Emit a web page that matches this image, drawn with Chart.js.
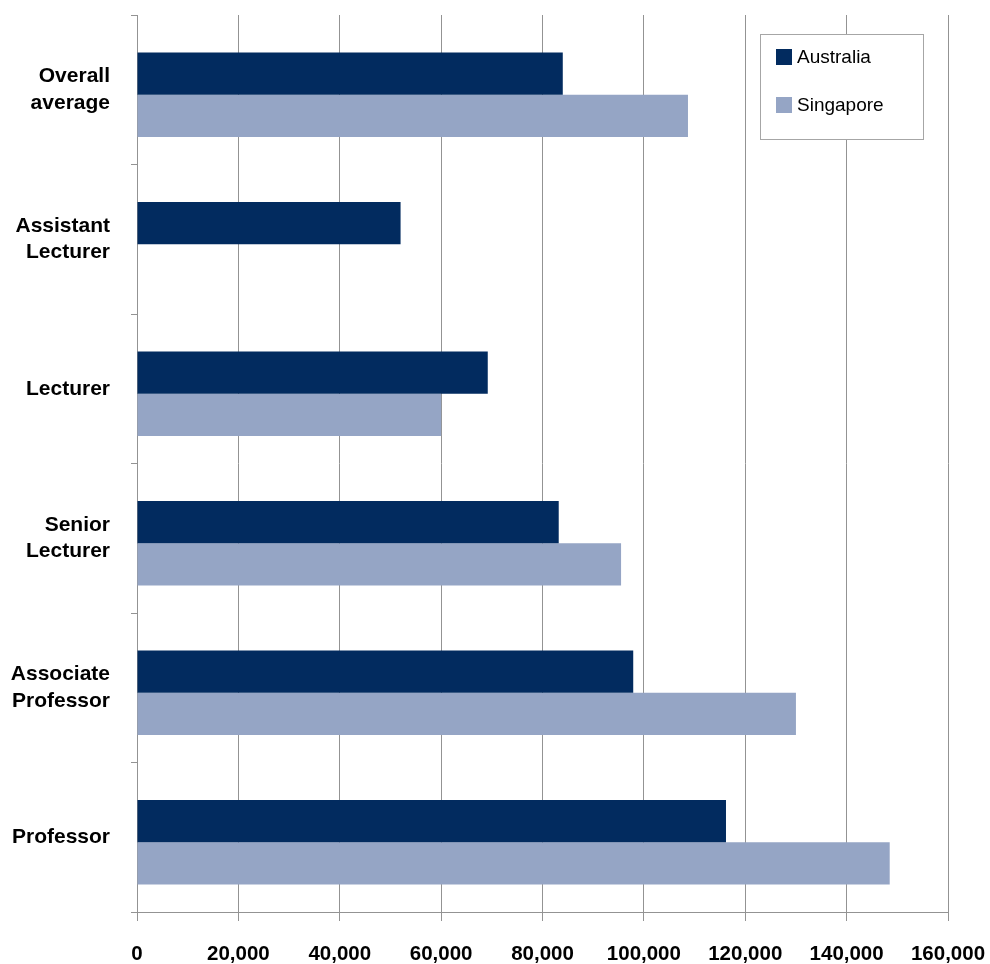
<!DOCTYPE html>
<html>
<head>
<meta charset="utf-8">
<script src="https://cdn.jsdelivr.net/npm/chart.js@4/dist/chart.umd.min.js"></script>
<style>
  html, body { margin: 0; padding: 0; background: #fff; }
  #salaryChart { display: block; }
</style>
</head>
<body>
<canvas id="salaryChart" width="990" height="964"></canvas>
<script>
const categories = [
    ['Overall', 'average'],
    ['Assistant', 'Lecturer'],
    'Lecturer',
    ['Senior', 'Lecturer'],
    ['Associate', 'Professor'],
    'Professor'
];
const australia = [84000, 52000, 69200, 83200, 97900, 116200];
const singapore = [108700, null, 60000, 95500, 130000, 148500];
const xTicks = [0, 20000, 40000, 60000, 80000, 100000, 120000, 140000, 160000];

const fontFamily = '"Liberation Sans", Arial, sans-serif';
const gridColor = '#939393';

// legend box drawn inside the plot, top right
const boxLegend = {
    id: 'boxLegend',
    afterDraw(chart) {
        const ctx = chart.ctx;
        ctx.save();
        ctx.fillStyle = '#ffffff';
        ctx.fillRect(760, 34, 163, 105);
        ctx.strokeStyle = '#a6a6a6';
        ctx.lineWidth = 1;
        ctx.strokeRect(760.5, 34.5, 163, 105);
        ctx.font = '19px ' + fontFamily;
        ctx.textBaseline = 'middle';
        chart.data.datasets.forEach(function(ds, i) {
            const y = 49 + i * 48;
            ctx.fillStyle = ds.backgroundColor;
            ctx.fillRect(776, y, 16, 16);
            ctx.fillStyle = '#000000';
            ctx.fillText(ds.label, 797, y + 9);
        });
        ctx.restore();
    }
};

// the bar groups sit a few pixels below the category centre in the original
const barNudge = {
    id: 'barNudge',
    beforeDatasetsDraw(chart) {
        chart.ctx.save();
        chart.ctx.translate(0, 5);
    },
    afterDatasetsDraw(chart) {
        chart.ctx.restore();
    }
};

function noScalePadding(scale) {
    scale.paddingTop = 0;
    scale.paddingBottom = 0;
    scale.paddingLeft = 0;
    scale.paddingRight = 0;
}

const salaryData = {
    labels: categories,
    datasets: [{
        label: 'Australia',
        data: australia,
        backgroundColor: '#022b5f',
        categoryPercentage: 0.566,
        barPercentage: 1.0
    }, {
        label: 'Singapore',
        data: singapore,
        backgroundColor: '#95a5c5',
        categoryPercentage: 0.566,
        barPercentage: 1.0
    }]
};

const configSalary = {
    type: 'bar',
    data: salaryData,
    options: {
        indexAxis: 'y',
        responsive: false,
        animation: false,
        layout: {
            padding: { top: 15, right: 42, left: 0, bottom: 0 }
        },
        plugins: {
            legend: { display: false },
            tooltip: { enabled: false }
        },
        scales: {
            x: {
                min: 0,
                max: 160000,
                afterFit: function(scale) {
                    scale.height = 52;
                    noScalePadding(scale);
                },
                afterBuildTicks: function(scale) {
                    scale.ticks = xTicks.map(function(v) { return { value: v }; });
                },
                grid: {
                    color: gridColor,
                    lineWidth: 1,
                    tickLength: 9
                },
                border: { color: gridColor },
                ticks: {
                    padding: 21,
                    color: '#000000',
                    font: { family: fontFamily, size: 20.5, weight: 'bold' },
                    callback: function(v) { return v.toLocaleString('en-US'); }
                }
            },
            y: {
                afterFit: function(scale) {
                    scale.width = 137;
                    noScalePadding(scale);
                },
                grid: {
                    drawOnChartArea: false,
                    color: gridColor,
                    tickLength: 6
                },
                border: { color: gridColor },
                ticks: {
                    padding: 21,
                    color: '#000000',
                    font: { family: fontFamily, size: 21, weight: 'bold', lineHeight: 1.25 }
                }
            }
        }
    },
    plugins: [barNudge, boxLegend]
};

const salaryChart = new Chart(
    document.getElementById('salaryChart'),
    configSalary
);
</script>
</body>
</html>
